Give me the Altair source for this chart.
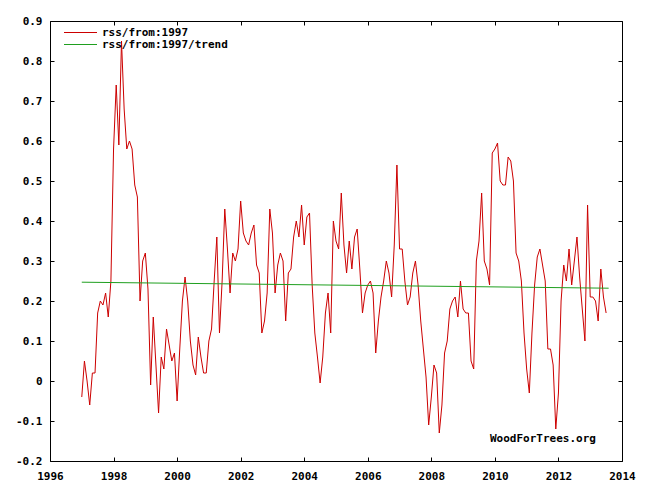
import altair as alt
import numpy as np
import pandas as pd

# ---- data ----
start_year = 1997
rss_values = [
    -0.04, 0.05, 0.00, -0.06, 0.02, 0.02, 0.17, 0.20, 0.19, 0.22, 0.16, 0.25,   # 1997
    0.58, 0.74, 0.59, 0.85, 0.68, 0.58, 0.60, 0.58, 0.49, 0.46, 0.20, 0.30,      # 1998
    0.32, 0.23, -0.01, 0.16, 0.04, -0.08, 0.06, 0.03, 0.13, 0.09, 0.05, 0.07,    # 1999
    -0.05, 0.08, 0.20, 0.26, 0.20, 0.10, 0.04, 0.015, 0.11, 0.06, 0.02, 0.02,    # 2000
    0.10, 0.13, 0.25, 0.36, 0.12, 0.25, 0.43, 0.33, 0.22, 0.32, 0.30, 0.33,      # 2001
    0.45, 0.37, 0.35, 0.34, 0.37, 0.39, 0.29, 0.27, 0.12, 0.15, 0.22, 0.43,      # 2002
    0.37, 0.22, 0.29, 0.32, 0.30, 0.15, 0.27, 0.28, 0.36, 0.40, 0.36, 0.44,      # 2003
    0.34, 0.41, 0.42, 0.24, 0.12, 0.06, -0.005, 0.06, 0.17, 0.22, 0.12, 0.40,    # 2004
    0.35, 0.33, 0.47, 0.34, 0.27, 0.35, 0.28, 0.36, 0.38, 0.28, 0.17, 0.22,      # 2005
    0.24, 0.25, 0.22, 0.07, 0.15, 0.21, 0.25, 0.30, 0.27, 0.21, 0.34, 0.54,      # 2006
    0.33, 0.33, 0.25, 0.19, 0.21, 0.27, 0.30, 0.24, 0.15, 0.08, 0.01, -0.11,     # 2007
    -0.04, 0.04, 0.02, -0.13, -0.06, 0.07, 0.10, 0.18, 0.20, 0.21, 0.16, 0.25,   # 2008
    0.18, 0.17, 0.17, 0.05, 0.03, 0.30, 0.35, 0.47, 0.30, 0.28, 0.24, 0.57,      # 2009
    0.58, 0.595, 0.50, 0.49, 0.49, 0.56, 0.55, 0.50, 0.32, 0.30, 0.25, 0.12,     # 2010
    0.03, -0.03, 0.12, 0.24, 0.31, 0.33, 0.29, 0.25, 0.08, 0.08, 0.04, -0.12,    # 2011
    -0.03, 0.20, 0.29, 0.25, 0.33, 0.24, 0.30, 0.36, 0.26, 0.18, 0.10, 0.44,     # 2012
    0.21, 0.21, 0.20, 0.15, 0.28, 0.21, 0.17,                                    # 2013
]
trend_years = [1997.0, 2013.58]
trend_values = [0.247, 0.232]
x_ticks = [1996, 1998, 2000, 2002, 2004, 2006, 2008, 2010, 2012, 2014]
y_ticks = [-0.2, -0.1, 0.0, 0.1, 0.2, 0.3, 0.4, 0.5, 0.6, 0.7, 0.8, 0.9]
legend_labels = ["rss/from:1997", "rss/from:1997/trend"]
credit = "WoodForTrees.org"

# ---- styling ----
W, H = 572, 440
FONT = "DejaVu Sans Mono"
FS = 11
RED = "#cc0000"
GREEN = "#1f9f1f"

df = pd.DataFrame({"t": start_year + np.arange(len(rss_values)) / 12.0, "v": rss_values})
tdf = pd.DataFrame({"t": trend_years, "v": trend_values})

xs = alt.Scale(domain=[1996, 2014], nice=False, zero=False)
ys = alt.Scale(domain=[-0.2, 0.9], nice=False, zero=False)

ylab = ("datum.value < -0.001 ? '-' + format(-datum.value, '.1f') : "
        "(datum.value < 0.001 ? '0' : format(datum.value, '.1f'))")

lab_common = dict(grid=False, domain=False, labelFont=FONT, labelFontSize=FS,
                  labelFontWeight="bold", labelColor="black", title="", labelFlush=False,
                  labelOverlap=False)
tick_common = dict(grid=False, domain=False, labels=False, ticks=True, tickSize=4,
                   tickColor="black", tickWidth=1, title="")

main = alt.Chart(df).mark_line(color=RED, strokeWidth=1, clip=True).encode(
    x=alt.X("t:Q", scale=xs, axis=alt.Axis(orient="bottom", values=x_ticks, format="d",
                                           ticks=False, labelPadding=9, **lab_common)),
    y=alt.Y("v:Q", scale=ys, axis=alt.Axis(orient="left", values=y_ticks, labelExpr=ylab,
                                           ticks=False, labelPadding=8, **lab_common)),
)

trend = alt.Chart(tdf).mark_line(color=GREEN, strokeWidth=1, clip=True).encode(
    x=alt.X("t:Q", scale=xs, axis=alt.Axis(orient="top", offset=-H, values=x_ticks, **tick_common)),
    y=alt.Y("v:Q", scale=ys, axis=alt.Axis(orient="right", offset=-W, values=y_ticks, **tick_common)),
)

ticks_other = alt.Chart(tdf).mark_line(opacity=0).encode(
    x=alt.X("t:Q", scale=xs, axis=alt.Axis(orient="bottom", offset=-H, values=x_ticks, **tick_common)),
    y=alt.Y("v:Q", scale=ys, axis=alt.Axis(orient="left", offset=-W, values=y_ticks, **tick_common)),
)

leg_df1 = pd.DataFrame({"label": [legend_labels[0]]})
leg_df2 = pd.DataFrame({"label": [legend_labels[1]]})
cred_df = pd.DataFrame({"label": [credit]})

leg_rule1 = alt.Chart(leg_df1).mark_rule(color=RED, strokeWidth=1).encode(
    x=alt.value(14), x2=alt.value(47), y=alt.value(11.5))
leg_rule2 = alt.Chart(leg_df2).mark_rule(color=GREEN, strokeWidth=1).encode(
    x=alt.value(14), x2=alt.value(47), y=alt.value(23.5))
txt = dict(align="left", baseline="middle", font=FONT, fontSize=FS, fontWeight="bold", color="black")
leg_text1 = alt.Chart(leg_df1).mark_text(**txt).encode(x=alt.value(52), y=alt.value(11.5), text="label:N")
leg_text2 = alt.Chart(leg_df2).mark_text(**txt).encode(x=alt.value(52), y=alt.value(23.5), text="label:N")
cred_text = alt.Chart(cred_df).mark_text(**txt).encode(x=alt.value(440), y=alt.value(418), text="label:N")

chart = alt.layer(
    main, trend, ticks_other, leg_rule1, leg_rule2, leg_text1, leg_text2, cred_text
).resolve_axis(x="independent", y="independent").properties(
    width=W, height=H,
    autosize=alt.AutoSizeParams(type="none"),
    padding={"left": 42, "top": 13, "right": 19, "bottom": 25},
    background="white",
).configure_view(stroke="black", strokeWidth=1)

chart.save("out.html", embed_options={"renderer": "svg", "actions": False})
